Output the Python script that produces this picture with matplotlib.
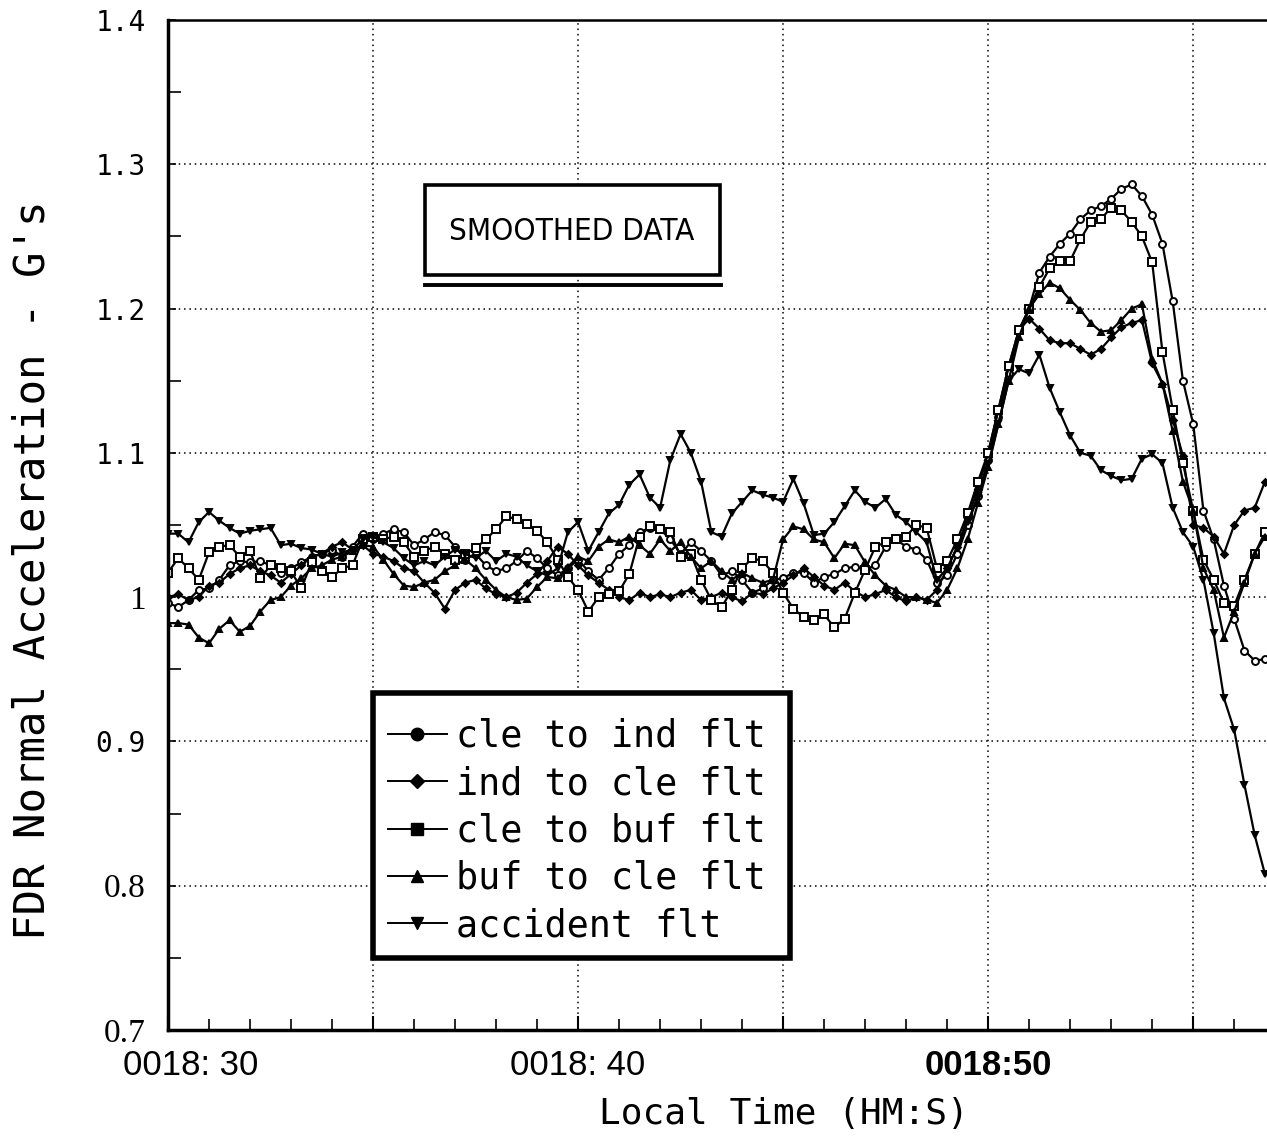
import numpy as np
import matplotlib
matplotlib.use('Agg')
import matplotlib.pyplot as plt
from matplotlib import font_manager
from matplotlib.lines import Line2D
from matplotlib.patches import Rectangle
from matplotlib.transforms import ScaledTranslation

# time stamps, seconds after 0018:00 (sampled every 0.25 s)
time_s = 30 + 0.25 * np.arange(108)

cle_to_ind = [
    0.996, 0.993, 0.998, 1.005, 1.006, 1.012, 1.022, 1.025, 1.024, 1.025,
    1.022, 1.017, 1.020, 1.024, 1.028, 1.030, 1.033, 1.028, 1.035, 1.044,
    1.040, 1.044, 1.047, 1.045, 1.036, 1.040, 1.045, 1.043, 1.035, 1.026,
    1.030, 1.022, 1.018, 1.020, 1.025, 1.032, 1.027, 1.020, 1.015, 1.020,
    1.026, 1.018, 1.012, 1.020, 1.030, 1.036, 1.045, 1.048, 1.047, 1.040,
    1.030, 1.038, 1.032, 1.025, 1.015, 1.018, 1.012, 1.003, 1.006, 1.012,
    1.013, 1.017, 1.017, 1.010, 1.014, 1.016, 1.020, 1.021, 1.019, 1.022,
    1.035, 1.040, 1.035, 1.033, 1.026, 1.010, 1.015, 1.030, 1.050, 1.070,
    1.095, 1.125, 1.155, 1.185, 1.200, 1.225, 1.236, 1.245, 1.252, 1.262,
    1.268, 1.271, 1.276, 1.283, 1.286, 1.278, 1.265, 1.245, 1.205, 1.150,
    1.120, 1.060, 1.040, 1.008, 0.985, 0.963, 0.956, 0.957]

ind_to_cle = [
    1.000, 1.002, 0.998, 1.000, 1.008, 1.010, 1.016, 1.020, 1.022, 1.018,
    1.015, 1.010, 1.016, 1.022, 1.028, 1.030, 1.035, 1.038, 1.033, 1.036,
    1.030, 1.028, 1.025, 1.020, 1.018, 1.010, 1.003, 0.992, 1.005, 1.010,
    1.012, 1.006, 1.002, 1.000, 1.003, 1.010, 1.016, 1.025, 1.035, 1.030,
    1.022, 1.015, 1.010, 1.005, 1.000, 0.998, 1.003, 1.000, 1.002, 1.000,
    1.003, 1.005, 0.998, 1.000, 1.003, 1.000, 0.997, 1.003, 1.002, 1.006,
    1.010, 1.015, 1.020, 1.014, 1.008, 1.005, 1.010, 1.004, 1.000, 1.002,
    1.005, 1.000, 0.997, 1.000, 0.998, 1.005, 1.020, 1.035, 1.055, 1.075,
    1.100, 1.130, 1.160, 1.185, 1.193, 1.186, 1.178, 1.176, 1.176, 1.172,
    1.168, 1.172, 1.180, 1.187, 1.190, 1.192, 1.162, 1.148, 1.123, 1.098,
    1.050, 1.048, 1.042, 1.030, 1.050, 1.060, 1.062, 1.080]

cle_to_buf = [
    1.017, 1.027, 1.020, 1.012, 1.031, 1.035, 1.036, 1.028, 1.032, 1.013,
    1.022, 1.020, 1.018, 1.006, 1.024, 1.018, 1.014, 1.020, 1.022, 1.040,
    1.042, 1.040, 1.042, 1.038, 1.028, 1.032, 1.035, 1.030, 1.026, 1.030,
    1.034, 1.040, 1.047, 1.056, 1.054, 1.051, 1.046, 1.038, 1.026, 1.014,
    1.005, 0.990, 1.000, 1.002, 1.004, 1.016, 1.042, 1.049, 1.047, 1.045,
    1.028, 1.030, 1.012, 0.998, 0.993, 1.005, 1.020, 1.027, 1.025, 1.017,
    1.003, 0.992, 0.986, 0.984, 0.988, 0.979, 0.985, 1.003, 1.019, 1.035,
    1.038, 1.040, 1.042, 1.050, 1.048, 1.020, 1.025, 1.040, 1.058, 1.080,
    1.100, 1.130, 1.160, 1.185, 1.200, 1.215, 1.228, 1.233, 1.233, 1.248,
    1.260, 1.262, 1.270, 1.268, 1.260, 1.250, 1.232, 1.170, 1.130, 1.093,
    1.060, 1.026, 1.012, 0.996, 0.994, 1.012, 1.030, 1.045]

buf_to_cle = [
    0.982, 0.982, 0.981, 0.972, 0.968, 0.978, 0.984, 0.976, 0.980, 0.990,
    0.998, 1.000, 1.008, 1.013, 1.020, 1.022, 1.026, 1.028, 1.032, 1.036,
    1.035, 1.026, 1.016, 1.008, 1.007, 1.010, 1.012, 1.018, 1.022, 1.026,
    1.020, 1.012, 1.005, 1.000, 0.998, 0.999, 1.007, 1.014, 1.013, 1.021,
    1.028, 1.025, 1.035, 1.040, 1.038, 1.042, 1.036, 1.030, 1.040, 1.032,
    1.038, 1.028, 1.020, 1.025, 1.018, 1.012, 1.017, 1.013, 1.010, 1.012,
    1.040, 1.049, 1.047, 1.040, 1.038, 1.027, 1.037, 1.036, 1.024, 1.015,
    1.008, 1.005, 1.000, 1.000, 0.998, 0.996, 1.005, 1.020, 1.040, 1.065,
    1.090, 1.120, 1.150, 1.180, 1.200, 1.210, 1.218, 1.214, 1.206, 1.199,
    1.190, 1.184, 1.185, 1.192, 1.200, 1.203, 1.165, 1.148, 1.115, 1.080,
    1.060, 1.020, 1.005, 0.972, 0.990, 1.010, 1.030, 1.042]

accident = [
    1.044, 1.044, 1.038, 1.052, 1.059, 1.053, 1.048, 1.044, 1.046, 1.047,
    1.048, 1.036, 1.037, 1.034, 1.033, 1.030, 1.028, 1.031, 1.033, 1.040,
    1.042, 1.038, 1.034, 1.027, 1.022, 1.025, 1.022, 1.028, 1.033, 1.030,
    1.027, 1.032, 1.025, 1.030, 1.028, 1.022, 1.018, 1.015, 1.020, 1.045,
    1.052, 1.032, 1.045, 1.058, 1.064, 1.078, 1.085, 1.069, 1.062, 1.095,
    1.113, 1.100, 1.080, 1.045, 1.042, 1.058, 1.066, 1.074, 1.071, 1.069,
    1.066, 1.082, 1.065, 1.043, 1.044, 1.052, 1.063, 1.074, 1.066, 1.062,
    1.068, 1.057, 1.052, 1.045, 1.038, 1.012, 1.020, 1.035, 1.052, 1.070,
    1.092, 1.120, 1.150, 1.158, 1.155, 1.168, 1.145, 1.128, 1.112, 1.100,
    1.098, 1.088, 1.084, 1.081, 1.082, 1.096, 1.099, 1.093, 1.062, 1.045,
    1.035, 1.012, 0.975, 0.930, 0.908, 0.870, 0.835, 0.808]

labels = ['cle to ind flt', 'ind to cle flt', 'cle to buf flt',
          'buf to cle flt', 'accident flt']
y_ticks = [0.7, 0.8, 0.9, 1.0, 1.1, 1.2, 1.3, 1.4]
y_tick_labels = ['0.7', '0.8', '0.9', '1', '1.1', '1.2', '1.3', '1.4']
x_ticks = [30, 35, 40, 45, 50, 55]
x_tick_labels = ['0018: 30', '', '0018: 40', '', '0018:50', '']

fonts = font_manager.fontManager.ttflist
has_cond = any(f.name == 'DejaVu Sans' and f.stretch == 'condensed' for f in fonts)
mono = 'DejaVu Sans Mono'

fig = plt.figure(figsize=(12.67, 11.44), dpi=100)
ax = fig.add_axes([0.1326, 0.0997, 0.8674, 0.8828])

series = [cle_to_ind, ind_to_cle, cle_to_buf, buf_to_cle, accident]
markers = ['o', 'D', 's', '^', 'v']
faces = ['white', 'black', 'white', 'black', 'black']
sizes = [5, 3.5, 6, 5, 5]
for vals, m, fc, ms in zip(series, markers, faces, sizes):
    assert len(vals) == len(time_s)
    ax.plot(time_s, vals, color='black', lw=1.6, marker=m, ms=ms,
            mfc=fc, mec='black', mew=1.4)

ax.set_xlim(30, 56.8)
ax.set_ylim(0.7, 1.4)

ax.set_yticks(y_ticks)
ax.set_yticklabels(y_tick_labels)
ax.set_yticks(np.arange(0.75, 1.4, 0.1), minor=True)
ax.set_xticks(x_ticks)
ax.set_xticklabels(x_tick_labels)
ax.set_xticks(np.arange(31, 57, 1), minor=True)

ax.grid(True, which='major', color='black', ls=(0, (1, 2.5)), lw=1.1)
ax.tick_params(axis='both', which='both', direction='in', color='black')
ax.tick_params(axis='y', which='minor', length=9, width=1.2)
ax.tick_params(axis='y', which='major', length=6, width=1.2, pad=16)
ax.tick_params(axis='x', which='minor', length=8, width=1.2)
ax.tick_params(axis='x', which='major', length=10, width=1.5, pad=14)

for lab in ax.get_yticklabels():
    if lab.get_text() in ('0.7', '0.8', '1'):
        lab.set_fontfamily('Liberation Serif')
        lab.set_fontsize(24)
    else:
        lab.set_fontfamily(mono)
        lab.set_fontsize(20)
for lab in ax.get_xticklabels():
    lab.set_fontfamily('Liberation Sans')
    lab.set_fontsize(25)
xl = ax.get_xticklabels()
xl[0].set_transform(xl[0].get_transform() + ScaledTranslation(0.23, 0, fig.dpi_scale_trans))
xl[4].set_fontweight('bold')

ax.spines['right'].set_visible(False)
ax.spines['left'].set_linewidth(2.5)
ax.spines['bottom'].set_linewidth(2.5)
ax.spines['top'].set_linewidth(1.8)

ax.set_ylabel("FDR Normal Acceleration - G's", fontfamily=mono, fontsize=30.5)
ax.yaxis.set_label_coords(-0.104, 0.455)
ax.set_xlabel('Local Time (HM:S)', fontfamily=mono, fontsize=26, va='top')
ax.xaxis.set_label_coords(0.56, -0.066)

# "SMOOTHED DATA" note
ax.add_patch(Rectangle((0.234, 0.7475), 0.268, 0.089, transform=ax.transAxes,
                       fill=True, fc='white', ec='black', lw=2.6, zorder=4))
ax.plot([0.234, 0.503], [0.7376, 0.7376], transform=ax.transAxes,
        color='black', lw=2.8, zorder=4)
if has_cond:
    ax.text(0.3676, 0.791, 'SMOOTHED DATA', transform=ax.transAxes,
            ha='center', va='center', fontfamily='DejaVu Sans',
            fontstretch='condensed', fontsize=22.5, zorder=5)
else:
    ax.text(0.3676, 0.791, 'SMOOTHED DATA', transform=ax.transAxes,
            ha='center', va='center', fontfamily='Liberation Sans',
            fontsize=21, zorder=5)

# legend box drawn as a plain frame, legend entries placed inside it
ax.add_patch(Rectangle((0.1865, 0.0713), 0.3795, 0.2624, transform=ax.transAxes,
                       fc='white', ec='black', lw=4, zorder=5))
handles = [Line2D([], [], color='black', lw=1.4, marker=m, ms=9 if m != 'D' else 7,
                  mfc='black', mec='black') for m in markers]
leg = ax.legend(handles, labels, loc='upper left', bbox_to_anchor=(0.2002, 0.309),
                borderaxespad=0, borderpad=0, frameon=False,
                handlelength=1.6, handletextpad=0.25, labelspacing=0.28,
                prop={'family': mono, 'size': 26.5})
leg.set_zorder(6)

fig.savefig('out.png', dpi=100, facecolor='white')
